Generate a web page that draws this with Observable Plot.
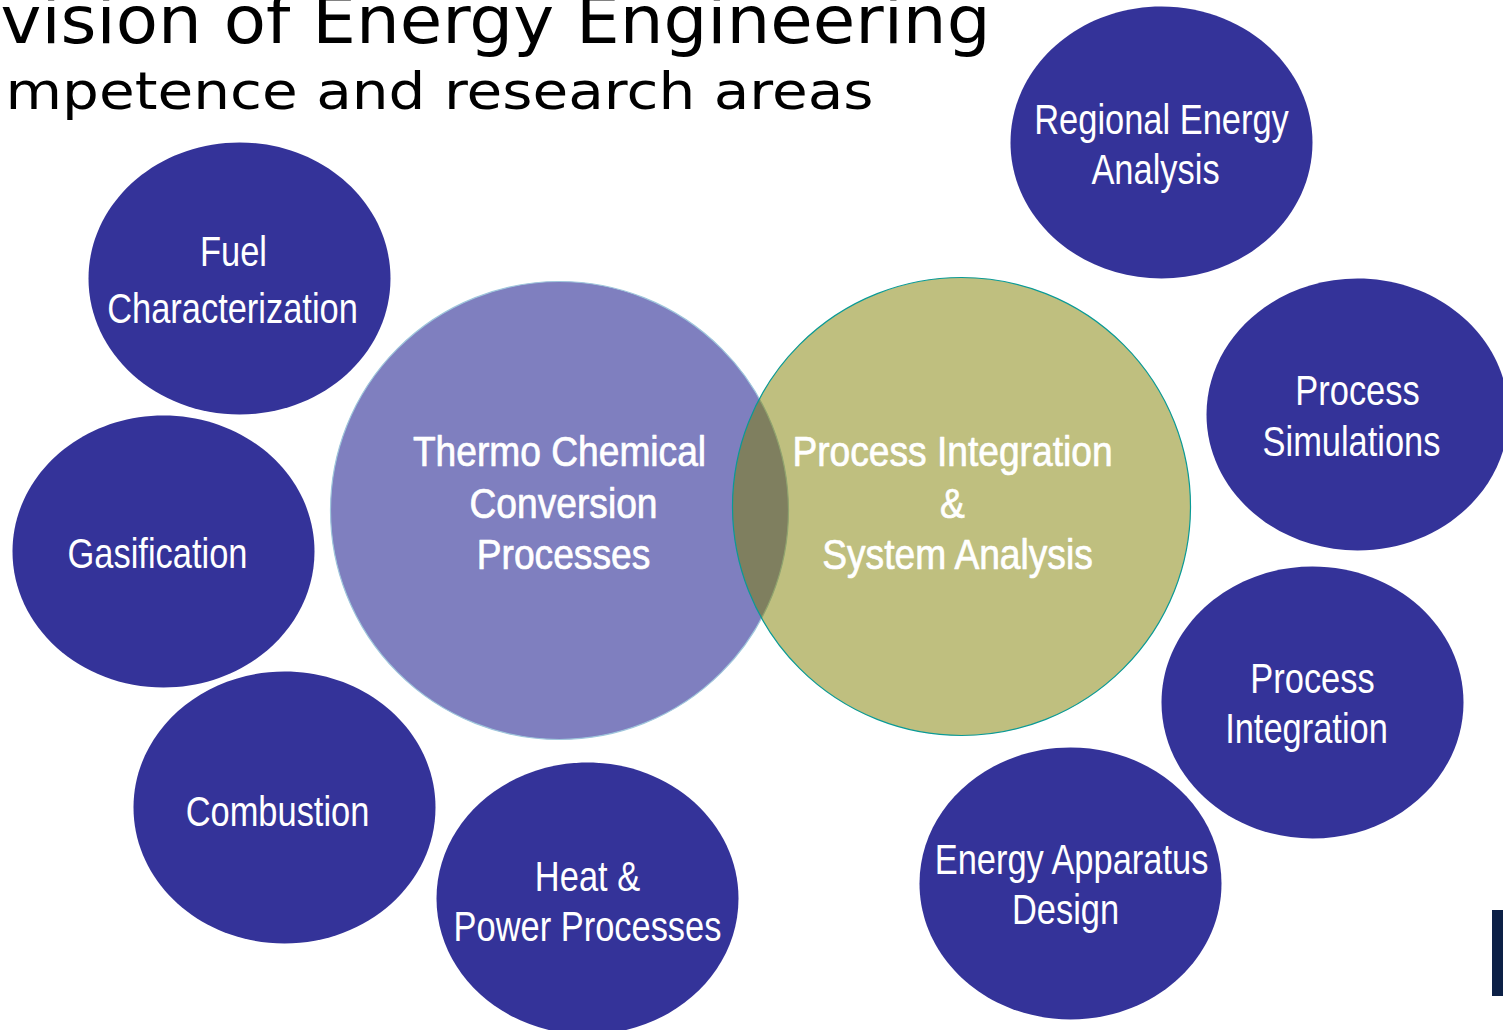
<!DOCTYPE html>
<html>
<head>
<meta charset="utf-8">
<script src="https://cdn.jsdelivr.net/npm/d3@7"></script>
<script src="https://cdn.jsdelivr.net/npm/@observablehq/plot@0.6"></script>
<style>
  html, body { margin: 0; padding: 0; background: #ffffff; overflow: hidden; }
  #chart svg { display: block; }
</style>
</head>
<body>
<div id="chart"></div>
<script>
// ---- data ----
const areaNames = ["Fuel Characterization", "Gasification", "Combustion", "Heat & Power Processes",
  "Regional Energy Analysis", "Process Simulations", "Process Integration", "Energy Apparatus Design"];
const areaX = [239, 163, 284, 587, 1161, 1357, 1312, 1070];
const areaY = [278, 551, 807, 898, 142, 414, 702, 883];

const coreNames = ["Thermo Chemical Conversion Processes", "Process Integration & System Analysis"];
const coreX = [559, 961];
const coreY = [510, 506];
const coreFill = ["#000080", "#808000"];
const coreStroke = ["#9fc6dc", "#0a9a96"];

const labelLines = ["Fuel", "Characterization", "Gasification", "Combustion", "Heat &", "Power Processes",
  "Regional Energy", "Analysis", "Process", "Simulations", "Process", "Integration",
  "Energy Apparatus", "Design"];
const labelX = [233, 232, 157, 277, 587, 587, 1161, 1155, 1357, 1351, 1312, 1306, 1071, 1065];
const labelY = [265, 322, 567, 825, 890, 940, 133, 183, 404, 455, 692, 742, 873, 923];

const coreLines = ["Thermo Chemical", "Conversion", "Processes", "Process Integration", "&", "System Analysis"];
const coreLineX = [559, 563, 563, 952, 952, 957];
const coreLineY = [465, 517, 568, 465, 517, 568];

const titleLines = ["vision of Energy Engineering", "mpetence and research areas"];
const titleX = [0, 5];
const titleY = [42, 108];
const titleSize = [66, 51];
const titleWidth = [990, 868];

const barX1 = [1492], barX2 = [1506], barY1 = [910], barY2 = [996];

// ---- ellipse symbol (rx/ry = 151/136) ----
const ellipse = {
  draw(ctx, size) {
    const ry = Math.sqrt(size / Math.PI), rx = ry * 151 / 136, k = 0.5523;
    ctx.moveTo(rx, 0);
    ctx.bezierCurveTo(rx, ry * k, rx * k, ry, 0, ry);
    ctx.bezierCurveTo(-rx * k, ry, -rx, ry * k, -rx, 0);
    ctx.bezierCurveTo(-rx, -ry * k, -rx * k, -ry, 0, -ry);
    ctx.bezierCurveTo(rx * k, -ry, rx, -ry * k, rx, 0);
    ctx.closePath();
  }
};

const areas = areaNames.map((n, i) => ({name: n, x: areaX[i], y: areaY[i]}));
const cores = coreNames.map((n, i) => ({name: n, x: coreX[i], y: coreY[i], fill: coreFill[i], stroke: coreStroke[i]}));
const labels = labelLines.map((t, i) => ({t, x: labelX[i], y: labelY[i]}));
const coreLabels = coreLines.map((t, i) => ({t, x: coreLineX[i], y: coreLineY[i]}));
const titles = titleLines.map((t, i) => ({t, x: titleX[i], y: titleY[i], s: titleSize[i], w: titleWidth[i]}));
const bars = barX1.map((v, i) => ({x1: v, x2: barX2[i], y1: barY1[i], y2: barY2[i]}));

const sans = "'Liberation Sans', Arial, sans-serif";

const chart = Plot.plot({
  width: 1503,
  height: 1030,
  margin: 0,
  x: {domain: [0, 1503], range: [0, 1503], axis: null},
  y: {domain: [0, 1030], range: [0, 1030], axis: null},
  style: {background: "#ffffff", overflow: "hidden"},
  marks: [
    Plot.dot(areas, {x: "x", y: "y", r: 136, symbol: ellipse, fill: "#343399", stroke: "none"}),
    Plot.dot(cores, {x: "x", y: "y", r: 229, fill: d => d.fill, fillOpacity: 0.5, stroke: d => d.stroke, strokeWidth: 1.2}),
    Plot.text(labels, {x: "x", y: "y", text: "t", fill: "white", fontSize: 42, lineAnchor: "bottom", textAnchor: "middle", fontFamily: sans}),
    Plot.text(coreLabels, {x: "x", y: "y", text: "t", fill: "white", stroke: "white", strokeWidth: 0.7, fontSize: 42, lineAnchor: "bottom", textAnchor: "middle", fontFamily: sans}),
    Plot.rect(bars, {x1: "x1", x2: "x2", y1: "y1", y2: "y2", fill: "#0c2046"}),
    Plot.text(titles, {x: "x", y: "y", text: "t", fill: "black", fontSize: d => d.s, lineAnchor: "bottom", textAnchor: "start", fontFamily: "'DejaVu Sans', Verdana, sans-serif"})
  ]
});

// narrow the condensed labels horizontally, fit title widths
const groups = chart.querySelectorAll('g[aria-label="text"]');
const squeeze = (g, s) => g.querySelectorAll("text").forEach(t => {
  t.setAttribute("transform", (t.getAttribute("transform") || "") + ` scale(${s},1)`);
  t.style.paintOrder = "normal";
});
squeeze(groups[0], 0.82);
squeeze(groups[1], 0.885);
groups[2].querySelectorAll("text").forEach((t, i) => {
  t.setAttribute("textLength", titles[i].w);
  t.setAttribute("lengthAdjust", "spacingAndGlyphs");
});
document.getElementById("chart").appendChild(chart);
</script>
</body>
</html>
